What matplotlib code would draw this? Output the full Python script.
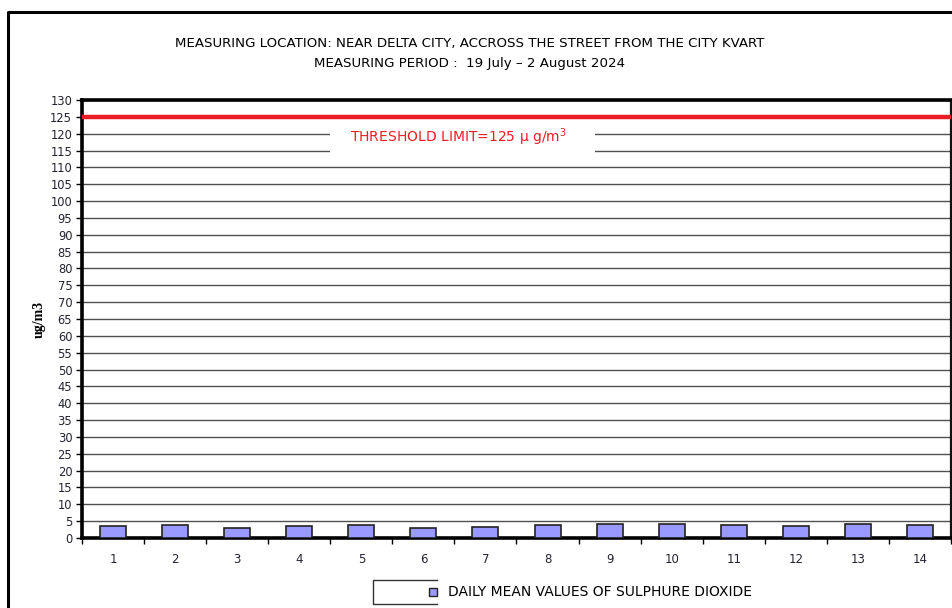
"""
Daily mean SO2 values near Delta City, with the 125 ug/m3 threshold
"""
import numpy as np
import matplotlib.pyplot as plt
from matplotlib.lines import Line2D

# Data
days = ['1', '2', '3', '4', '5', '6', '7', '8', '9', '10', '11', '12', '13', '14']
so2_daily_mean = [3.45, 3.75, 3.05, 3.45, 3.75, 3.05, 3.15, 3.75, 4.05, 4.05, 3.75, 3.45, 4.05, 3.75]
threshold = 125
y_ticks = list(range(0, 131, 5))

title_lines = ["MEASURING LOCATION: NEAR DELTA CITY, ACCROSS THE STREET FROM THE CITY KVART",
               "MEASURING PERIOD :  19 July \u2013 2 August 2024"]
legend_text = "DAILY MEAN VALUES OF SULPHURE DIOXIDE"
threshold_text = "THRESHOLD LIMIT=125 \u03bc g/m$^3$"

W, H = 953, 608
fig = plt.figure(figsize=(W / 100, H / 100), dpi=100)
ax = fig.add_axes([82 / W, 1 - 538 / H, (951 - 82) / W, (538 - 100) / H])

x = np.arange(len(days))
ax.set_axisbelow(True)
ax.bar(x, so2_daily_mean, width=0.42, color='#9999ff', edgecolor='#222222', linewidth=1.2, zorder=3)

# Threshold line
ax.axhline(threshold, color='#ee1c25', linewidth=3.2, zorder=4)

ax.set_xlim(-0.5, len(days) - 0.5)
ax.set_ylim(0, 130)

# grid lines every 5
ax.set_yticks(y_ticks)
ax.set_yticklabels([str(v) for v in y_ticks], fontsize=8.3, family='DejaVu Sans', color='#222233')
ax.yaxis.grid(True, color='#505050', linewidth=1.0, zorder=1)
ax.tick_params(axis='y', direction='out', length=4, width=1, pad=3)

# x labels at centres, ticks between bars
ax.set_xticks(x)
ax.set_xticklabels(days, fontsize=8.5, family='DejaVu Sans', color='#222233')
ax.set_xticks(np.arange(-0.5, len(days), 1), minor=True)
ax.tick_params(axis='x', which='major', length=0, pad=11)
ax.tick_params(axis='x', which='minor', direction='out', length=4, width=1)

for side in ['left', 'bottom', 'top']:
    ax.spines[side].set_linewidth(2.6)
    ax.spines[side].set_color('black')
ax.spines['right'].set_linewidth(1.6)
ax.spines['right'].set_color('#111111')

ax.set_ylabel('ug/m3', fontsize=10, family='Liberation Serif', fontweight='bold', labelpad=3)

# Threshold label on white box
fig.text(458 / W, 1 - 137 / H, threshold_text, color='#ee1c25', fontsize=10,
         family='DejaVu Sans', ha='center', va='center', zorder=10)
# white gap behind label
fig.patches.append(plt.Rectangle((330 / W, 1 - 153 / H), (595 - 330) / W, 24 / H,
                                 transform=fig.transFigure, facecolor='white',
                                 edgecolor='none', zorder=5))

# Title
fig.text(470 / W, 1 - 44 / H, title_lines[0], fontsize=9.6, family='DejaVu Sans',
         ha='center', va='center')
fig.text(470 / W, 1 - 63 / H, title_lines[1], fontsize=9.6, family='DejaVu Sans',
         ha='center', va='center')

# Outer chart frame (clipped by picture edge)
fig.add_artist(Line2D([8 / W, 8 / W, 1.0], [0, 1 - 12 / H, 1 - 12 / H],
                      transform=fig.transFigure, color='black', linewidth=2.2))

# Legend (partial box)
fig.add_artist(Line2D([437 / W, 373 / W, 373 / W, 437 / W],
                      [1 - 580 / H, 1 - 580 / H, 1 - 604 / H, 1 - 604 / H],
                      transform=fig.transFigure, color='#333333', linewidth=1.0))
fig.add_artist(Line2D([433 / W], [1 - 592 / H], transform=fig.transFigure, marker='s',
                      markersize=5.5, markerfacecolor='#9999ff', markeredgecolor='#222222',
                      markeredgewidth=1.0, linestyle='none'))
fig.text(448 / W, 1 - 592 / H, legend_text, fontsize=10, family='DejaVu Sans',
         ha='left', va='center')

fig.savefig('out.png', dpi=100)
